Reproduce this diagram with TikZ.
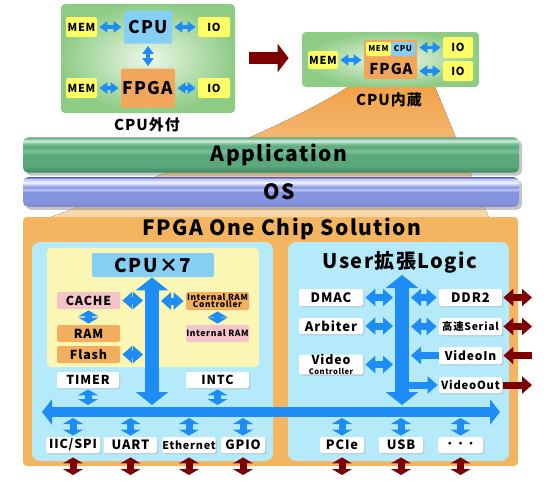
\documentclass[tikz,border=0pt]{standalone}
\usepackage{fontspec}
\setmainfont{Noto Sans CJK JP}[LetterSpace=7]
\usetikzlibrary{arrows.meta, shadows}

\newcommand\fsz[1]{\fontsize{#1pt}{#1pt}\selectfont\bfseries}

\definecolor{grnout}{HTML}{8ECC86}
\definecolor{grnin}{HTML}{EDF7E8}
\definecolor{cpublue}{HTML}{84CFF3}
\definecolor{memyel}{HTML}{FFFF66}
\definecolor{fpgaor}{HTML}{F2A65C}
\definecolor{arblue}{HTML}{1E8CF5}
\definecolor{arred}{HTML}{7D0000}
\definecolor{chipor}{HTML}{F4B560}
\definecolor{panelbl}{HTML}{B4EAFA}
\definecolor{panelye}{HTML}{FCF6B4}
\definecolor{cachepk}{HTML}{F5C4CB}
\definecolor{ramor}{HTML}{F2B05E}
\definecolor{fanA}{HTML}{F2A24A}
\definecolor{fanB}{HTML}{F9DCB2}
% glossy bars
\definecolor{apA}{HTML}{3E8A5F}
\definecolor{apB}{HTML}{5AA87C}
\definecolor{apC}{HTML}{D2EBDC}
\definecolor{apD}{HTML}{7CC098}
\definecolor{osA}{HTML}{5A6AC8}
\definecolor{osB}{HTML}{8494DE}
\definecolor{osC}{HTML}{F4F6FF}
\definecolor{osD}{HTML}{BCC5F5}
\definecolor{osE}{HTML}{7F8AD4}

\pgfdeclareverticalshading{appgloss}{100bp}{color(0bp)=(apA); color(25bp)=(apA);
  color(35bp)=(apB); color(50bp)=(apB); color(55bp)=(apD); color(62bp)=(apB);
  color(66bp)=(apD); color(70bp)=(apC); color(75bp)=(apB); color(100bp)=(apB)}
\pgfdeclareverticalshading{osgloss}{100bp}{color(0bp)=(osE); color(25bp)=(osE);
  color(35bp)=(osB); color(45bp)=(osB); color(50bp)=(osB); color(54bp)=(osD);
  color(58bp)=(osB); color(62bp)=(osD); color(66bp)=(osC); color(72bp)=(osD);
  color(75bp)=(osA); color(100bp)=(osA)}

\tikzset{
  td/.tip={Triangle[length=4pt,width=5.5pt]},
  hd/.tip={Triangle[length=5pt,width=8.5pt]},
  vd/.tip={Triangle[length=3pt,width=10pt]},
  bd/.tip={Triangle[length=6.5pt,width=16pt]},
  sd/.tip={Triangle[length=5pt,width=12.5pt]},
  rd/.tip={Triangle[length=5.5pt,width=14pt]}}

\begin{document}
\begin{tikzpicture}[x=0.5pt, y=-0.5pt,
  gbg/.style={rounded corners=2pt, inner color=grnin, outer color=grnout},
  cbox/.style={rounded corners=1pt, inner sep=0pt, align=center},
  wbox/.style={cbox, fill=white, drop shadow={shadow xshift=0.7pt, shadow yshift=-0.7pt, fill=black!30}},
  bar/.style={rounded corners=2.5pt, shade, minimum width=248pt, minimum height=13pt, font=\fsz{10.5},
    drop shadow={shadow xshift=1.5pt, shadow yshift=-1.5pt, fill=black!45}},
  panel/.style={fill=panelbl, rounded corners=4pt},
  tb/.style={arblue, line width=1.6pt, shorten <=1pt, shorten >=1pt},
  bh/.style={arblue, line width=3.5pt},
  rh/.style={arred, line width=3.5pt}]

\useasboundingbox (0,0) rectangle (550,483);

% =================================================================================
% the fan from the one-chip board down to the stack
% =================================================================================
\fill[top color=fanA, bottom color=fanB] (348,87) -- (435,87) -- (492,225) -- (30,225)
  .. controls (150,180) and (280,130) .. (348,87) -- cycle;

% =================================================================================
% CPU outside the FPGA
% =================================================================================
\node[gbg, minimum width=87pt, minimum height=54.5pt] (outbg) at (148,58.5) {};
\node[cbox, fill=cpublue, minimum width=24pt, minimum height=16.5pt, font=\fsz{8.7}] (cpuA) at (148,27) {CPU};
\node[cbox, fill=fpgaor, minimum width=27pt, minimum height=19.5pt, font=\fsz{8.7}] (fpgaA) at (148,88) {FPGA};
\node[cbox, fill=memyel, minimum width=15.5pt, minimum height=10pt, font=\fsz{5.5}] (memA1) at (81.5,27) {MEM};
\node[cbox, fill=memyel, minimum width=16pt, minimum height=10pt, font=\fsz{5.5}] (ioA1) at (214,27) {IO};
\node[cbox, fill=memyel, minimum width=15.5pt, minimum height=10pt, font=\fsz{5.5}] (memA2) at (81.5,88) {MEM};
\node[cbox, fill=memyel, minimum width=16pt, minimum height=10pt, font=\fsz{5.5}] (ioA2) at (214,88) {IO};
\node[font=\fsz{7.5}] (outT) at (147,125) {CPU外付};

\draw[tb, td-td] (memA1) -- (cpuA);
\draw[tb, td-td] (cpuA) -- (ioA1);
\draw[tb, td-td] (cpuA) -- (fpgaA);
\draw[tb, td-td] (memA2) -- (fpgaA);
\draw[tb, td-td] (fpgaA) -- (ioA2);

% =================================================================================
% CPU inside the FPGA
% =================================================================================
\node[gbg, minimum width=88.5pt, minimum height=27.5pt] (inbg) at (390.5,59.5) {};
\node[cbox, fill=memyel, minimum width=15pt, minimum height=9pt, font=\fsz{5.5}] (memB) at (323,60) {MEM};
\node[cbox, fill=fpgaor, minimum width=26.5pt, minimum height=19.5pt] (fpgaB) at (390.5,59.5) {};
\node[cbox, fill=memyel, minimum width=12.5pt, minimum height=7pt, font=\fsz{4}] (memC) at (378.5,49) {MEM};
\node[cbox, fill=cpublue, minimum width=12pt, minimum height=7pt, font=\fsz{4}] (cpuC) at (403,49) {CPU};
\node[font=\fsz{7.5}] (fpgaBt) at (391,68.5) {FPGA};
\node[cbox, fill=memyel, minimum width=15pt, minimum height=10.5pt, font=\fsz{5.5}] (ioB1) at (458,47.5) {IO};
\node[cbox, fill=memyel, minimum width=15pt, minimum height=10pt, font=\fsz{5.5}] (ioB2) at (458,71) {IO};
\node[font=\fsz{7.5}] (inT) at (389,100) {CPU内蔵};

\draw[tb, td-td] (memB) -- (memB -| fpgaB.west);
\draw[tb, td-td] (fpgaB.east |- ioB1) -- (ioB1);
\draw[tb, td-td] (fpgaB.east |- ioB2) -- (ioB2);

\draw[arred, line width=6pt, -rd, shorten <=7pt, shorten >=6.5pt] (outbg.east |- 0,58) -- (inbg.west |- 0,58);

% =================================================================================
% software stack
% =================================================================================
\node[bar, shading=appgloss] (app) at (271,155) {\hspace*{8pt}Application};
\node[bar, shading=osgloss] (os) at (271,192) {\hspace*{8pt}OS};

% =================================================================================
% FPGA one chip solution
% =================================================================================
\node[fill=chipor, rounded corners=2pt, minimum width=247.5pt, minimum height=124.5pt] (chip) at (270.5,341.5) {};
\node[font=\fsz{10.5}] (chipT) at (282,229) {FPGA One Chip Solution};

\node[panel, minimum width=120.5pt, minimum height=109.5pt] (lpan) at (152.5,351.5) {};
\node[panel, minimum width=110.5pt, minimum height=109.5pt] (rpan) at (398.5,351.5) {};
\node[fill=panelye, rounded corners=2pt, minimum width=106pt, minimum height=59.5pt] (ypan) at (153,307.5) {};

% left half: CPU side
\node[cbox, fill=cpublue, minimum width=61pt, minimum height=12pt, font=\fsz{9.5}] (cpu7) at (153,265) {CPU×7};
\node[cbox, fill=cachepk, minimum width=31.5pt, minimum height=8.5pt, font=\fsz{6.2}] (cache) at (88.5,300.5) {CACHE};
\node[cbox, fill=ramor, minimum width=31.5pt, minimum height=8.5pt, font=\fsz{6.2}] (ram) at (88.5,333.5) {RAM};
\node[cbox, fill=ramor, minimum width=31.5pt, minimum height=8.5pt, font=\fsz{6.2}] (flash) at (88.5,354.5) {Flash};
\node[cbox, fill=ramor, minimum width=31.5pt, minimum height=9pt, font=\fsz{4.2}] (irc) at (217.5,301) {Internal RAM\\[-0.6pt]Controller};
\node[cbox, fill=cachepk, minimum width=31.5pt, minimum height=8.5pt, font=\fsz{4.3}] (iram) at (217.5,333.5) {Internal RAM};
\node[wbox, minimum width=31pt, minimum height=8pt, font=\fsz{6.2}] (timer) at (88,380) {TIMER};
\node[wbox, minimum width=31.5pt, minimum height=8pt, font=\fsz{6.2}] (intc) at (217.5,380) {INTC};

% right half: user logic
\node[font=\fsz{10}] (ulog) at (400,262) {User拡張Logic};
\node[wbox, minimum width=32pt, minimum height=8.5pt, font=\fsz{6.5}] (dmac) at (331,297.5) {DMAC};
\node[wbox, minimum width=32pt, minimum height=8pt, font=\fsz{6.5}] (arb) at (331,326) {Arbiter};
\node[wbox, minimum width=32pt, minimum height=9.5pt, font=\fsz{6.2}] (vctl) at (331,364.5) {Video\\[-1.5pt]{\fsz{3.8}Controller}};
\node[wbox, minimum width=31.5pt, minimum height=8.5pt, font=\fsz{6.5}] (ddr) at (470.5,297.5) {DDR2};
\node[wbox, minimum width=31.5pt, minimum height=8.5pt, font=\fsz{5.2}] (ser) at (470.5,326.5) {高速Serial};
\node[wbox, minimum width=31.5pt, minimum height=8.5pt, font=\fsz{6}] (vin) at (470.5,355.5) {VideoIn};
\node[wbox, minimum width=31.5pt, minimum height=8pt, font=\fsz{5.6}] (vout) at (470.5,385) {VideoOut};

% peripherals on the bus
\node[wbox, minimum width=27pt, minimum height=8pt, font=\fsz{6.2}] (iic) at (73,445) {IIC/SPI};
\node[wbox, minimum width=26.5pt, minimum height=8pt, font=\fsz{6.4}] (uart) at (130.5,445) {UART};
\node[wbox, minimum width=26pt, minimum height=8pt, font=\fsz{5.4}] (eth) at (189,445) {Ethernet};
\node[wbox, minimum width=22pt, minimum height=8pt, font=\fsz{6.4}] (gpio) at (243,445) {GPIO};
\node[wbox, minimum width=22pt, minimum height=8pt, font=\fsz{6.4}] (pcie) at (342,445) {PCIe};
\node[wbox, minimum width=22pt, minimum height=8pt, font=\fsz{6.4}] (usb) at (401,445) {USB};
\node[wbox, minimum width=22.5pt, minimum height=8pt, font=\fsz{5}] (etc) at (460.5,445) {・・・};

% bus and the two vertical trunks
\coordinate (busL) at (42,412);
\coordinate (busR) at (500,412);
\coordinate (busT) at (0,405);
\coordinate (busB) at (0,418);
\coordinate (lbus) at (152,0);
\coordinate (rbus) at (402,275);
\coordinate (redR) at (532,0);
\coordinate (redB) at (0,475);

\draw[arblue, line width=5pt, sd-sd] (busL) -- (busR);
\draw[arblue, line width=7pt, bd-bd] (cpu7.south -| lbus) -- (busT -| lbus);
\draw[arblue, line width=7pt, bd-bd] (rbus) -- (busT -| rbus);

% CPU side links
\draw[bh, vd-vd, shorten <=0.5pt, shorten >=0.5pt] (cache) -- (ram);
\draw[bh, vd-vd, shorten <=0.5pt, shorten >=0.5pt] (irc) -- (iram);
\draw[bh, hd-hd, shorten <=1pt, shorten >=4.5pt] (cache.east) -- (cache.east -| lbus);
\draw[bh, hd-hd, shorten <=1pt, shorten >=4.5pt] (flash.east) -- (flash.east -| lbus);
\draw[bh, hd-hd, shorten <=1pt, shorten >=4.5pt] (irc.west) -- (irc.west -| lbus);
\draw[bh, vd-vd, shorten <=0.5pt] (timer.south) -- (timer.south |- busT);
\draw[bh, vd-vd, shorten <=0.5pt] (intc.south) -- (intc.south |- busT);

% user logic links
\draw[bh, hd-hd, shorten <=1pt, shorten >=4.5pt] (dmac.east) -- (dmac.east -| rbus);
\draw[bh, hd-hd, shorten <=1pt, shorten >=4.5pt] (arb.east) -- (arb.east -| rbus);
\draw[bh, hd-hd, shorten <=1pt, shorten >=4.5pt] (vctl.east) -- (vctl.east -| rbus);
\draw[bh, hd-hd, shorten <=1pt, shorten >=4.5pt] (ddr.west) -- (ddr.west -| rbus);
\draw[bh, hd-hd, shorten <=1pt, shorten >=4.5pt] (ser.west) -- (ser.west -| rbus);
\draw[bh, -hd, shorten <=0pt, shorten >=4.5pt] (vin.west) -- (vin.west -| rbus);
\draw[bh, -hd, shorten <=3pt, shorten >=0.5pt] (vout.west -| rbus) -- (vout.west);

% outside world
\draw[rh, hd-hd, shorten <=0.5pt] (ddr.east) -- (ddr.east -| redR);
\draw[rh, hd-hd, shorten <=0.5pt] (ser.east) -- (ser.east -| redR);
\draw[rh, -hd, shorten >=0.5pt] (vin.east -| redR) -- (vin.east);
\draw[rh, -hd, shorten <=0.5pt] (vout.east) -- (vout.east -| redR);

% bus to peripherals, peripherals to pins
\foreach \p in {iic, uart, eth, gpio, pcie, usb, etc} {
  \draw[bh, vd-vd, shorten >=0.5pt] (\p.north |- busB) -- (\p.north);
  \draw[rh, vd-vd, shorten <=2pt] (\p.south) -- (\p.south |- redB);
}

\end{tikzpicture}
\end{document}
